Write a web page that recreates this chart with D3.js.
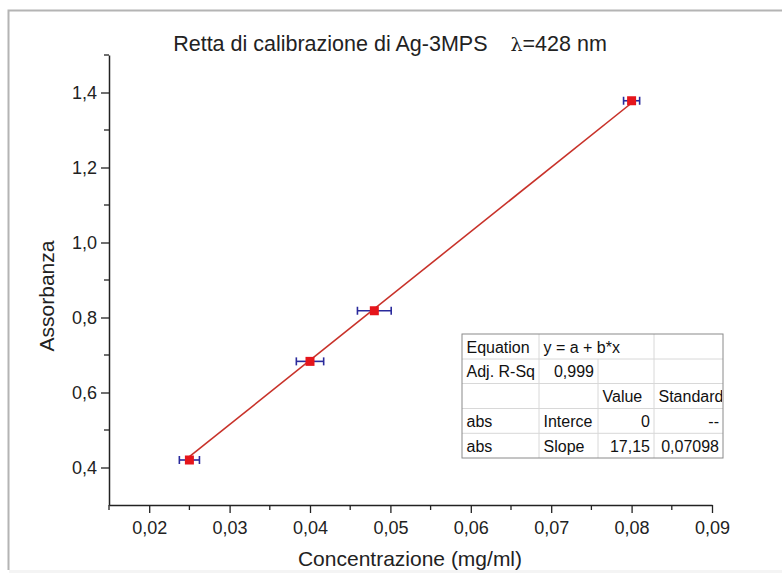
<!DOCTYPE html>
<html>
<head>
<meta charset="utf-8">
<script src="https://cdn.jsdelivr.net/npm/d3@7"></script>
<style>
  body { margin: 0; background: #fff; }
  svg { display: block; font-family: "Liberation Sans", Arial, sans-serif; }
</style>
</head>
<body>
<svg id="chart" width="782" height="573"></svg>
<script>
// measured points (concentration mg/ml, absorbance) + x error
var conc = [0.025, 0.040, 0.048, 0.080];
var absorb = [0.420, 0.683, 0.818, 1.378];
var concErr = [0.00125, 0.0017, 0.0021, 0.0010];

// linear fit y = a + b*x
var fitA = 0;
var fitB = 17.15;

var xTicks = [0.02, 0.03, 0.04, 0.05, 0.06, 0.07, 0.08, 0.09];
var xMinor = [0.015, 0.025, 0.035, 0.045, 0.055, 0.065, 0.075, 0.085];
var yTicks = [0.4, 0.6, 0.8, 1.0, 1.2, 1.4];
var yMinor = [0.5, 0.7, 0.9, 1.1, 1.3, 1.5];

var tableRows = [
  ["Equation", "y = a + b*x", "", ""],
  ["Adj. R-Sq", "0,999", "", ""],
  ["", "", "Value", "Standard"],
  ["abs", "Interce", "0", "--"],
  ["abs", "Slope", "17,15", "0,07098"]
];

var svg = d3.select("#chart");
var fmt = function(d, n){ return d3.format("." + n + "f")(d).replace(".", ","); };

// page border: only top and left edges show, faint band at the bottom
svg.append("rect")
  .attr("x", 9).attr("y", 570).attr("width", 773).attr("height", 3)
  .attr("fill", "#f4f4f4");
svg.append("path")
  .attr("d", "M8.5,570V10.5H782")
  .attr("fill", "none")
  .attr("stroke", "#b4b4b4")
  .attr("stroke-width", 2);

var x = d3.scaleLinear().domain([0.015, 0.09]).range([109, 712]);
var y = d3.scaleLinear().domain([0.3, 1.5]).range([505, 55]);

// x axis
var gx = svg.append("g").attr("transform", "translate(0,505)");
gx.call(d3.axisBottom(x).tickValues(xTicks).tickSize(8).tickSizeOuter(0).tickFormat(function(d){ return fmt(d, 2); }));
gx.append("g").selectAll("line").data(xMinor).enter().append("line")
  .attr("x1", function(d){ return x(d); }).attr("x2", function(d){ return x(d); })
  .attr("y1", 0).attr("y2", 5).attr("stroke", "#222").attr("stroke-width", 1.3);

// y axis
var gy = svg.append("g").attr("transform", "translate(109,0)");
gy.call(d3.axisLeft(y).tickValues(yTicks).tickSize(8).tickSizeOuter(0).tickFormat(function(d){ return fmt(d, 1); }));
gy.append("g").selectAll("line").data(yMinor).enter().append("line")
  .attr("y1", function(d){ return y(d); }).attr("y2", function(d){ return y(d); })
  .attr("x1", 0).attr("x2", -5).attr("stroke", "#222").attr("stroke-width", 1.3);

svg.selectAll(".domain").attr("stroke", "#222").attr("stroke-width", 1.5);
svg.selectAll(".tick line").attr("stroke", "#222").attr("stroke-width", 1.3);
svg.selectAll(".tick text").attr("font-size", 18).attr("fill", "#222")
  .attr("font-family", "Liberation Sans, Arial, sans-serif");
gx.selectAll(".tick text").attr("dy", "1.0em");
gy.selectAll(".tick text").attr("dx", "-1px");

// axis titles
svg.append("text")
  .attr("x", 410).attr("y", 566)
  .attr("text-anchor", "middle")
  .attr("font-size", 21).attr("fill", "#222")
  .text("Concentrazione (mg/ml)");

svg.append("text")
  .attr("transform", "translate(54,296) rotate(-90)")
  .attr("text-anchor", "middle")
  .attr("font-size", 21).attr("fill", "#222")
  .text("Assorbanza");

// title
var title = svg.append("text")
  .attr("x", 390).attr("y", 51)
  .attr("text-anchor", "middle")
  .attr("font-size", 21.5).attr("fill", "#222");
title.append("tspan").text("Retta di calibrazione di Ag-3MPS");
title.append("tspan").attr("dx", 23).attr("font-family", "DejaVu Serif, serif").attr("font-size", 19).text("λ");
title.append("tspan").text("=428 nm");

// fit line
var data = conc.map(function(c, i){ return {x: c, y: absorb[i], e: concErr[i]}; });
var fitExt = d3.extent(conc);
var line = d3.line()
  .x(function(d){ return x(d); })
  .y(function(d){ return y(fitA + fitB * d); });
svg.append("path")
  .datum(fitExt)
  .attr("fill", "none")
  .attr("stroke", "#c8322a")
  .attr("stroke-width", 1.6)
  .attr("d", line);

// error bars
var eb = svg.append("g").attr("stroke", "#2a2a9c").attr("stroke-width", 1.6);
eb.selectAll("line.h").data(data).enter().append("line")
  .attr("x1", function(d){ return x(d.x - d.e); })
  .attr("x2", function(d){ return x(d.x + d.e); })
  .attr("y1", function(d){ return y(d.y); })
  .attr("y2", function(d){ return y(d.y); });
eb.selectAll("line.l").data(data).enter().append("line")
  .attr("x1", function(d){ return x(d.x - d.e); })
  .attr("x2", function(d){ return x(d.x - d.e); })
  .attr("y1", function(d){ return y(d.y) - 4; })
  .attr("y2", function(d){ return y(d.y) + 4; });
eb.selectAll("line.r").data(data).enter().append("line")
  .attr("x1", function(d){ return x(d.x + d.e); })
  .attr("x2", function(d){ return x(d.x + d.e); })
  .attr("y1", function(d){ return y(d.y) - 4; })
  .attr("y2", function(d){ return y(d.y) + 4; });

// markers
svg.selectAll("rect.pt").data(data).enter().append("rect")
  .attr("class", "pt")
  .attr("x", function(d){ return x(d.x) - 4.5; })
  .attr("y", function(d){ return y(d.y) - 4.5; })
  .attr("width", 9).attr("height", 9)
  .attr("fill", "#e5151b");

// fit table
var colX = [462, 539, 598, 654, 723];
var rowY = [334, 359, 383.5, 408.5, 433.3, 458];
var tb = svg.append("g");
tb.append("rect")
  .attr("x", colX[0]).attr("y", rowY[0])
  .attr("width", colX[4] - colX[0]).attr("height", rowY[5] - rowY[0])
  .attr("fill", "#fff");
// inner grid
tb.selectAll("line.r").data(rowY.slice(1, 5)).enter().append("line")
  .attr("x1", colX[0]).attr("x2", colX[4])
  .attr("y1", function(d){ return d; }).attr("y2", function(d){ return d; })
  .attr("stroke", "#d8d8d8");
tb.selectAll("line.c").data(colX.slice(1, 4)).enter().append("line")
  .attr("y1", function(d, i){ return i == 1 ? rowY[1] : rowY[0]; }).attr("y2", rowY[5])
  .attr("x1", function(d){ return d; }).attr("x2", function(d){ return d; })
  .attr("stroke", "#d8d8d8");

// clip each cell so long labels get cut like in the original
var defs = svg.append("defs");
colX.slice(0, 4).forEach(function(cx, c){
  defs.append("clipPath").attr("id", "col" + c)
    .append("rect")
    .attr("x", cx).attr("y", rowY[0])
    .attr("width", (c == 1 ? colX[3] : colX[c + 1]) - cx - 1)
    .attr("height", rowY[5] - rowY[0]);
});

tableRows.forEach(function(row, r){
  row.forEach(function(txt, c){
    if (!txt) return;
    var right = (r == 1 && c == 1) || (r >= 3 && c >= 2);
    tb.append("text")
      .attr("clip-path", "url(#col" + c + ")")
      .attr("x", right ? colX[c + 1] - 4 : colX[c] + 4.5)
      .attr("y", (rowY[r] + rowY[r + 1]) / 2 + 6)
      .attr("text-anchor", right ? "end" : "start")
      .attr("font-size", 16).attr("fill", "#111")
      .text(txt);
  });
});

tb.append("rect")
  .attr("x", colX[0]).attr("y", rowY[0])
  .attr("width", colX[4] - colX[0]).attr("height", rowY[5] - rowY[0])
  .attr("fill", "none").attr("stroke", "#8a8a8a");
</script>
</body>
</html>
